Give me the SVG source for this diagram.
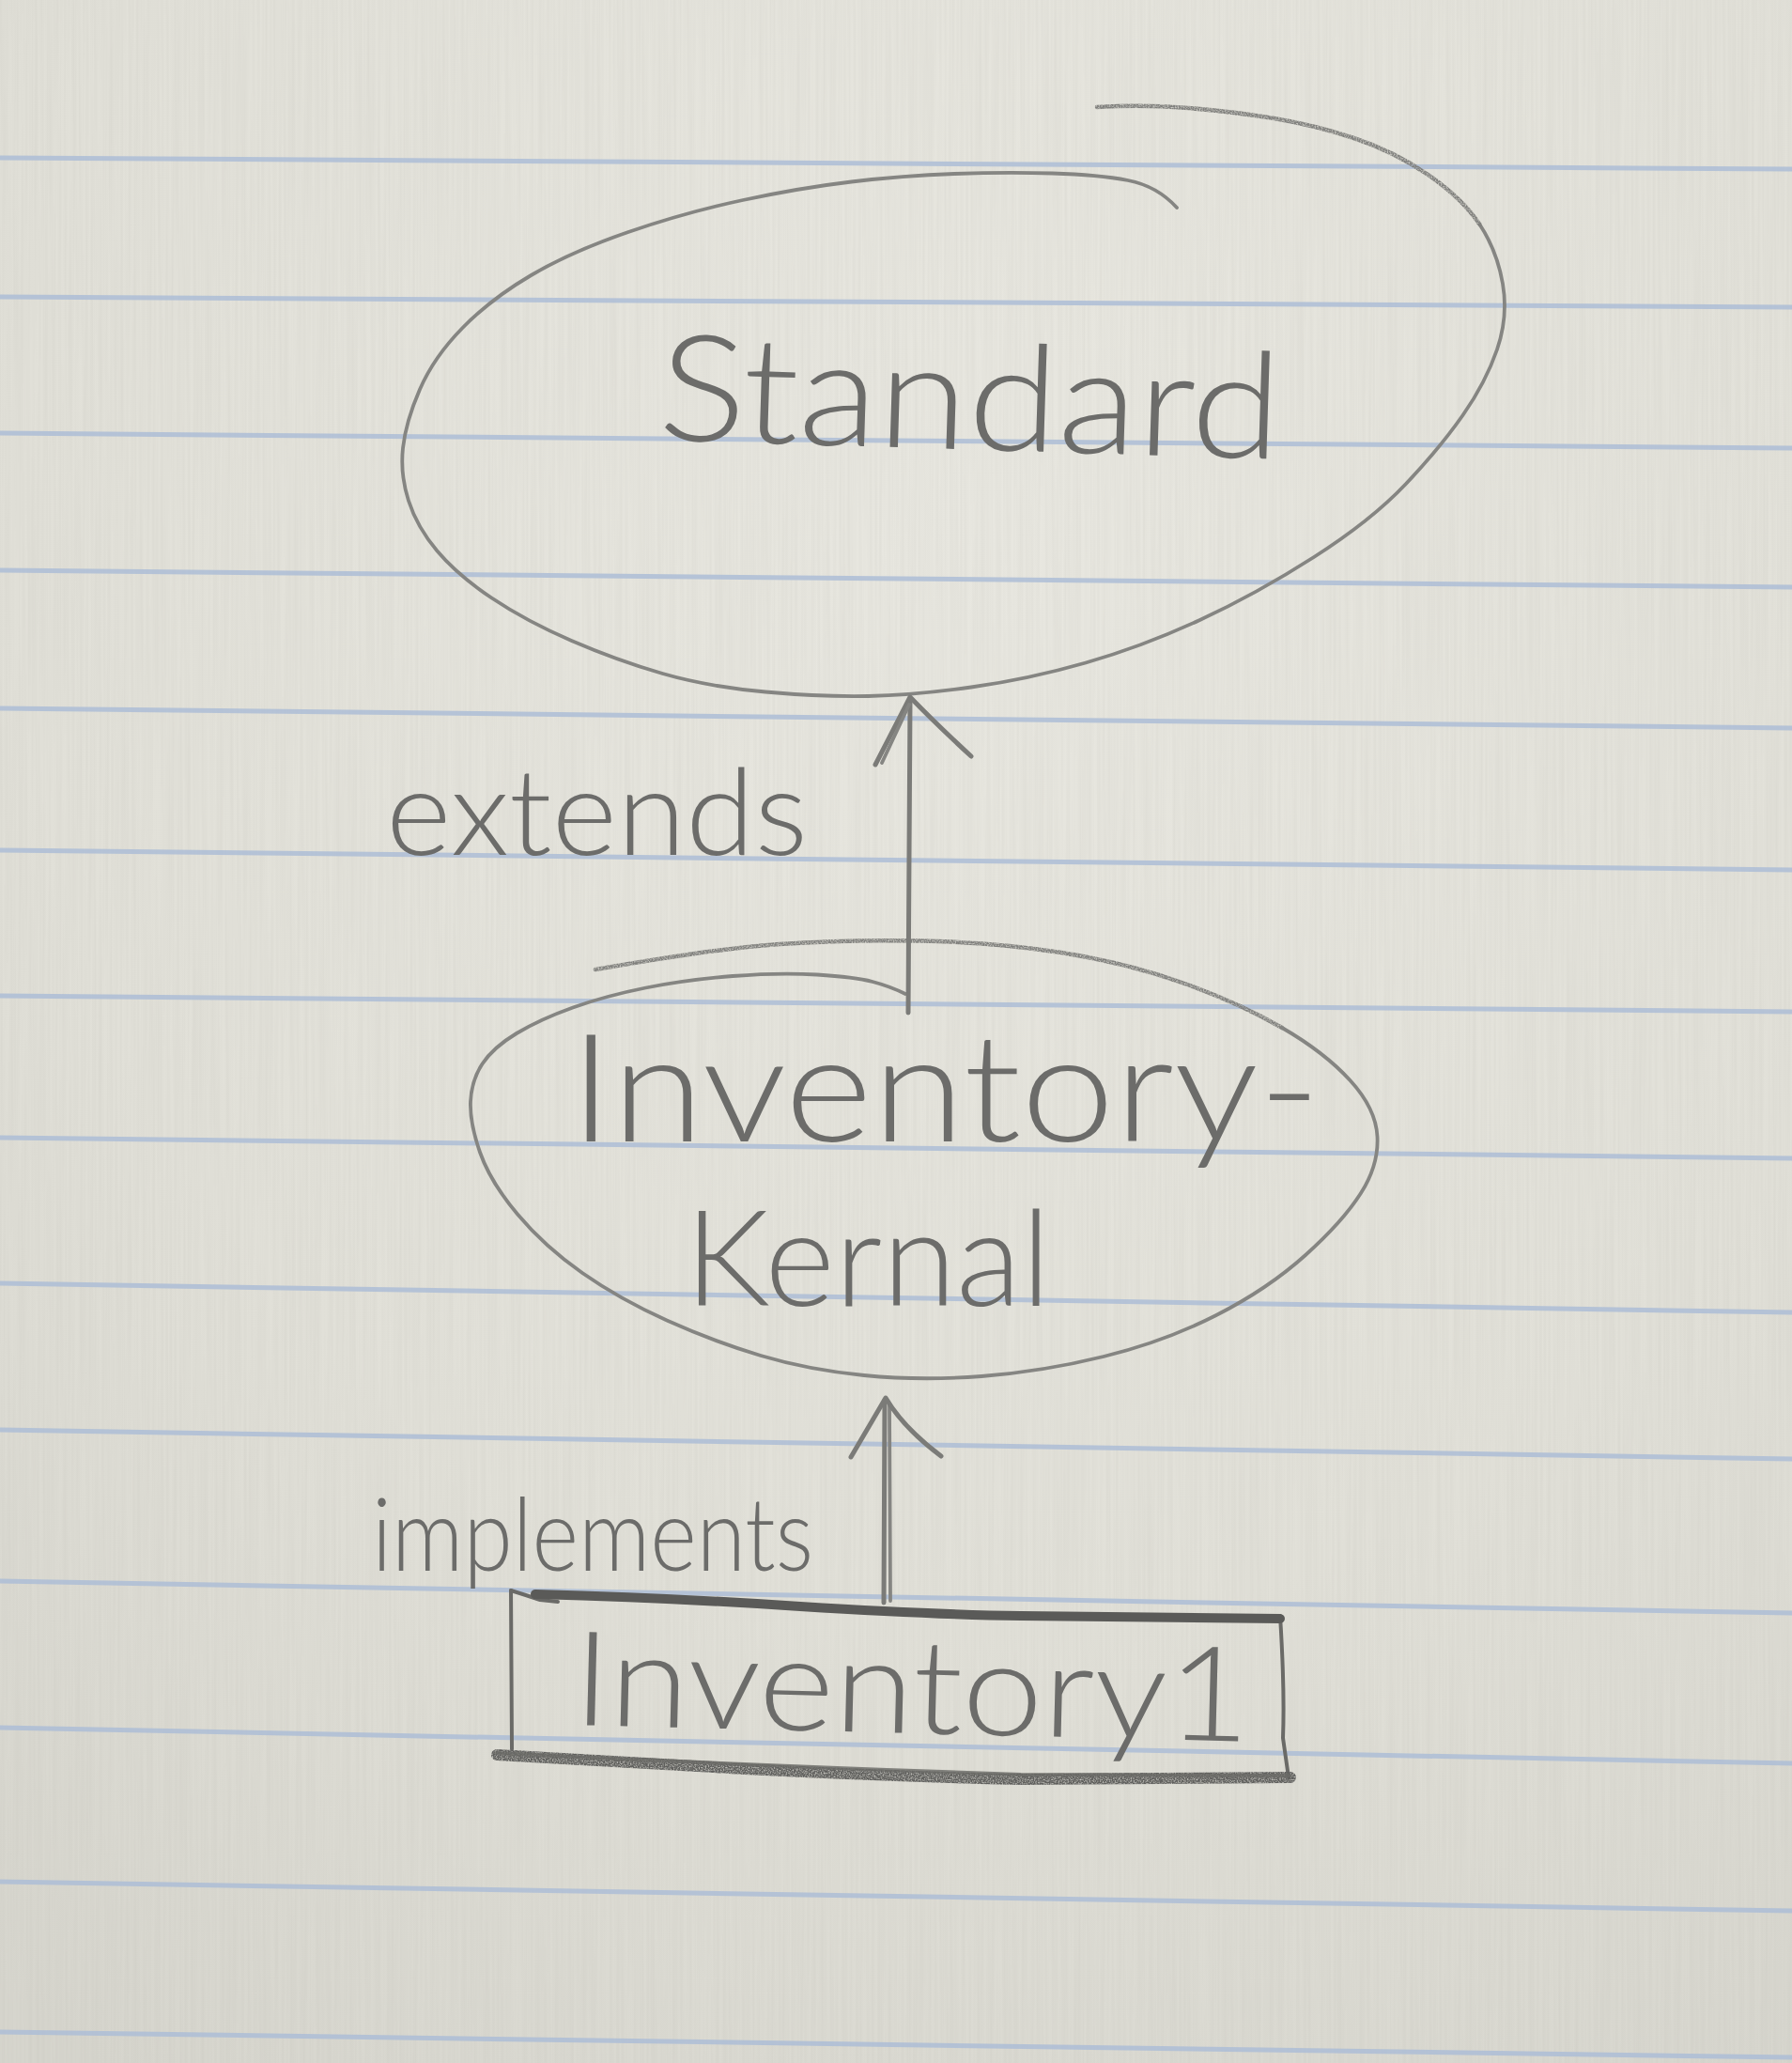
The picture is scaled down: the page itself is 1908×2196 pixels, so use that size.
<svg xmlns="http://www.w3.org/2000/svg" width="1908" height="2196" viewBox="0 0 1908 2196">
  <style>
    .rule { fill: none; stroke: #adbdd6; stroke-width: 5; stroke-linecap: round; opacity: 0.85; }
    .outline { fill: none; stroke: #858582; stroke-width: 3.8; stroke-linecap: round; stroke-linejoin: round; }
    .faint { fill: none; stroke: #80807d; stroke-width: 4.5; stroke-linecap: round; stroke-linejoin: round; }
    .shaft { fill: none; stroke: #7b7b78; stroke-width: 5; stroke-linecap: round; stroke-linejoin: round; }
    .box { fill: none; stroke: #6a6a67; stroke-width: 4; stroke-linecap: round; stroke-linejoin: round; }
    .heavy { fill: none; stroke: #5a5a58; stroke-width: 10; stroke-linecap: round; stroke-linejoin: round; }
    .smudge { fill: none; stroke: #5e5e5c; stroke-width: 12; stroke-linecap: round; stroke-linejoin: round; }
    .hand { font-family: Lato, "Open Sans", "Liberation Sans", sans-serif; font-weight: 300; fill: #6c6c6a; }
  </style>
  <defs>
    <radialGradient id="paperTone" cx="0.55" cy="0.25" r="0.9">
      <stop offset="0" stop-color="#e8e7e0"/>
      <stop offset="0.6" stop-color="#e1e0d8"/>
      <stop offset="1" stop-color="#d6d5cd"/>
    </radialGradient>
    <filter id="fibres" x="0" y="0" width="100%" height="100%">
      <feTurbulence type="fractalNoise" baseFrequency="0.35 0.004" numOctaves="2" seed="7" result="n"/>
      <feColorMatrix in="n" type="matrix" values="0 0 0 0 0.45  0 0 0 0 0.44  0 0 0 0 0.40  0 0 0 0.22 -0.06"/>
    </filter>
    <!-- light pencil pressure: breaks the stroke into grain -->
    <filter id="grain" filterUnits="userSpaceOnUse" x="0" y="0" width="1908" height="2196">
      <feTurbulence type="fractalNoise" baseFrequency="0.7" numOctaves="1" seed="3" result="t"/>
      <feColorMatrix in="t" type="matrix" values="0 0 0 0 0  0 0 0 0 0  0 0 0 0 0  0 0 0 2.0 -0.2" result="m"/>
      <feComposite in="SourceGraphic" in2="m" operator="in"/>
    </filter>
  </defs>

  <!-- lined paper -->
  <rect width="1908" height="2196" fill="url(#paperTone)"/>
  <rect width="1908" height="2196" filter="url(#fibres)"/>
  <g id="ruling">
    <path class="rule" d="M0,168 L1908,180"/>
    <path class="rule" d="M0,316 L1908,327"/>
    <path class="rule" d="M0,461 L1908,477"/>
    <path class="rule" d="M0,607 L1908,625"/>
    <path class="rule" d="M0,754 L1908,775"/>
    <path class="rule" d="M0,905 L1908,926"/>
    <path class="rule" d="M0,1060 L1908,1077"/>
    <path class="rule" d="M0,1211 L1908,1233"/>
    <path class="rule" d="M0,1366 L1908,1397"/>
    <path class="rule" d="M0,1522 L1908,1553"/>
    <path class="rule" d="M0,1683 L1908,1717"/>
    <path class="rule" d="M0,1839 L1908,1877"/>
    <path class="rule" d="M0,2003 L1908,2034"/>
    <path class="rule" d="M0,2163 L1908,2190"/>
  </g>

  <!-- Standard -->
  <g id="node-standard">
    <path class="outline" d="M1253,221 Q1232,198 1201,192 Q1170,186 1120.5,184.5 Q1071,183 1016,185 Q961,187 906.5,193.5 Q852,200 791,213 Q730,226 669,247 Q608,268 565.5,293 Q523,318 492.5,349 Q462,380 447,414.5 Q432,449 429,477 Q426,505 435,533 Q444,561 465.5,586.5 Q487,612 523.5,636.5 Q560,661 608.5,682 Q657,703 705.5,717 Q754,731 815,736.5 Q876,742 924.5,741 Q973,740 1034,731.5 Q1095,723 1156,705.5 Q1217,688 1277.5,660 Q1338,632 1399,593 Q1460,554 1496.5,515.5 Q1533,477 1557.5,442 Q1582,407 1594,372 Q1606,337 1600,302 Q1594,267 1575.5,239"/>
    <path class="faint" filter="url(#grain)" d="M1575.5,239 Q1557,211 1520.5,186 Q1484,161 1441.5,147 Q1399,133 1356.5,126 Q1314,119 1265.5,115 Q1217,111 1168,114"/>
    <text class="hand" x="700" y="468" font-size="158" textLength="663" lengthAdjust="spacingAndGlyphs" transform="rotate(1.8 700 468)">Standard</text>
  </g>

  <!-- Inventory-Kernal -->
  <g id="node-inventory-kernal">
    <path class="faint" filter="url(#grain)" d="M634,1032 Q760,1010 830,1005 Q900,1000 980,1001.5 Q1060,1003 1130,1014 Q1200,1025 1260,1046.5 Q1320,1068 1365,1094"/>
    <path class="outline" d="M1365,1094 Q1410,1120 1437.5,1150 Q1465,1180 1466.5,1210 Q1468,1240 1449,1270 Q1430,1300 1390,1336 Q1350,1372 1295,1400 Q1240,1428 1175,1444 Q1110,1460 1045,1465 Q980,1470 920,1464 Q860,1458 810,1443 Q760,1428 710,1405.5 Q660,1383 620,1355 Q580,1327 551,1292.5 Q522,1258 511,1226.5 Q500,1195 501,1172.5 Q502,1150 513.5,1132.5 Q525,1115 550,1100 Q575,1085 610,1072.5 Q645,1060 687.5,1051.5 Q730,1043 780,1039 Q830,1035 870,1037.5 Q910,1040 929,1045 Q948,1050 964,1058"/>
    <text class="hand" x="606" y="1215" font-size="160" textLength="800" lengthAdjust="spacingAndGlyphs">Inventory-</text>
    <text class="hand" x="729" y="1390" font-size="142" textLength="390" lengthAdjust="spacingAndGlyphs">Kernal</text>
  </g>

  <!-- Inventory1 -->
  <g id="node-inventory1">
    <path class="box" d="M544,1693 L545,1862"/>
    <path class="box" d="M544,1693 Q560,1698 575,1703 L594,1705"/>
    <path class="box" d="M1363,1720 Q1368,1800 1366,1850 L1372,1892"/>
    <path class="smudge" filter="url(#grain)" d="M529,1868 Q680,1877 793,1883 Q950,1891 1087,1894 L1374,1892"/>
    <path class="box" opacity="0.8" d="M529,1866 Q793,1879 1087,1889 L1372,1890"/>
    <path class="heavy" d="M570,1697 Q720,1701 852,1710 Q1000,1719 1087,1720 L1363,1723"/>
    <text class="hand" x="609" y="1836" font-size="140" textLength="722" lengthAdjust="spacingAndGlyphs" transform="rotate(1.4 609 1836)">Inventory1</text>
  </g>

  <!-- relations -->
  <g id="connectors">
    <g id="edge-extends">
      <path class="shaft" d="M967,1078 L969,744"/>
      <path class="shaft" d="M932,814 L969,742 Q996,770 1034,805"/>
      <path class="outline" d="M939,812 L968,750"/>
    </g>
    <g id="edge-implements">
      <path class="shaft" d="M941,1706 L942,1490"/>
      <path class="outline" d="M948,1704 L947,1495"/>
      <path class="shaft" d="M906,1551 L943,1488 Q962,1520 1002,1550"/>
    </g>
  </g>

  <g id="labels">
    <text class="hand" x="411" y="910" font-size="128" textLength="449" lengthAdjust="spacingAndGlyphs">extends</text>
    <text class="hand" x="396" y="1672" font-size="108" textLength="470" lengthAdjust="spacingAndGlyphs">implements</text>
  </g>
</svg>
